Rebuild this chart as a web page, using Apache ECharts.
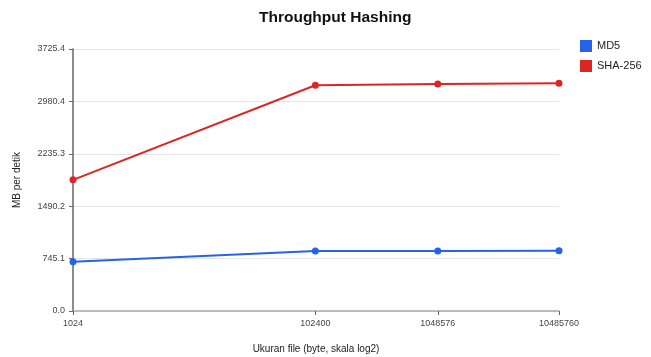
<!DOCTYPE html>
<html>
<head>
<meta charset="utf-8">
<script src="https://cdn.jsdelivr.net/npm/echarts@6/dist/echarts.min.js"></script>
<style>
  html, body { margin: 0; padding: 0; background: #fff; }
  #chart { width: 651px; height: 357px; }
</style>
</head>
<body>
<div id="chart"></div>
<script>
// File sizes in bytes (x, log2 scale) and throughput in MB per second
const sizes = [1024, 102400, 1048576, 10485760];
const md5 = [700, 852, 853, 856];
const sha256 = [1865, 3210, 3228, 3239.5];
const yTicks = [0, 745.1, 1490.2, 2235.3, 2980.4, 3725.4];

const chart = echarts.init(document.getElementById('chart'));
const FONT = 'Arial, "Liberation Sans", sans-serif';

function pairs(vals) { return sizes.map((s, i) => [s, vals[i]]); }

chart.setOption({
  animation: false,
  textStyle: { fontFamily: FONT },
  title: {
    text: 'Throughput Hashing',
    left: 254, top: 5,
    textStyle: { fontSize: 15.5, fontWeight: 'bold', color: '#111', fontFamily: FONT }
  },
  legend: {
    orient: 'vertical',
    left: 575, top: 35,
    itemWidth: 12, itemHeight: 12, itemGap: 8,
    icon: 'rect',
    textStyle: { fontSize: 11, color: '#222' },
    data: ['MD5', 'SHA-256']
  },
  grid: { left: 73, right: 92, top: 49, bottom: 46, outerBoundsMode: 'none', containLabel: false },
  xAxis: {
    type: 'log', logBase: 2,
    min: 1024, max: 10485760,
    name: 'Ukuran file (byte, skala log2)',
    nameLocation: 'middle', nameGap: 33,
    nameTextStyle: { fontSize: 10, color: '#222' },
    axisLine: { lineStyle: { color: '#aaa', width: 1.5 } },
    axisTick: { show: true, customValues: sizes, length: 4, lineStyle: { color: '#666' } },
    axisLabel: {
      customValues: sizes, fontSize: 9, color: '#444', margin: 8,
      formatter: v => String(Math.round(v))
    },
    splitLine: { show: false }
  },
  yAxis: {
    type: 'value',
    min: 0, max: yTicks[yTicks.length - 1],
    name: 'MB per detik',
    nameLocation: 'middle', nameGap: 51, nameRotate: 90,
    nameTextStyle: { fontSize: 10, color: '#222' },
    axisLine: { show: true, lineStyle: { color: '#666', width: 1.5 } },
    axisTick: { show: true, customValues: yTicks, length: 4, lineStyle: { color: '#666' } },
    axisLabel: {
      customValues: yTicks, fontSize: 9, color: '#444', margin: 8,
      formatter: v => v.toFixed(1)
    },
    splitLine: { show: true, lineStyle: { color: '#e6e6e6' } }
  },
  series: [
    {
      name: 'MD5', type: 'line', data: pairs(md5),
      color: '#2563eb', symbol: 'circle', symbolSize: 7,
      lineStyle: { width: 2 }
    },
    {
      name: 'SHA-256', type: 'line', data: pairs(sha256),
      color: '#dc2626', symbol: 'circle', symbolSize: 7,
      lineStyle: { width: 2 }
    }
  ]
});
</script>
</body>
</html>
